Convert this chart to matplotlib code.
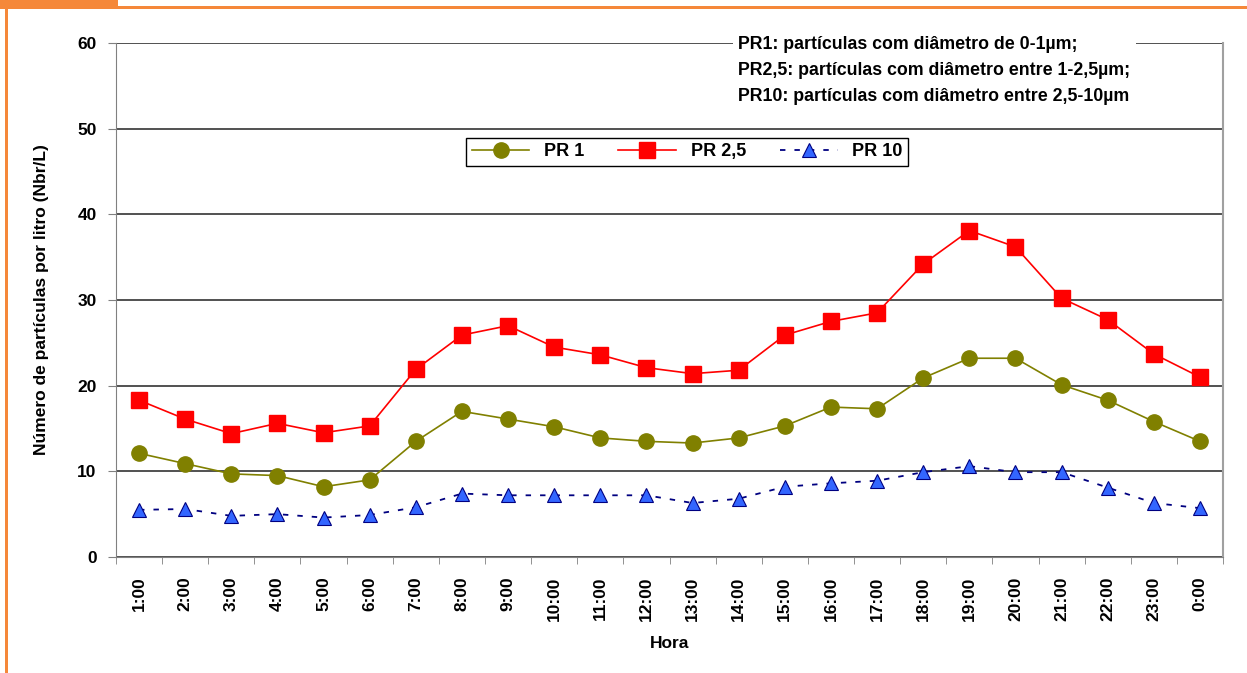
import matplotlib.pyplot as plt
from matplotlib.patches import Rectangle

plt.rcParams['font.family'] = ['Liberation Sans', 'DejaVu Sans']
plt.rcParams['font.weight'] = 'bold'

horas = ['1:00', '2:00', '3:00', '4:00', '5:00', '6:00', '7:00', '8:00',
         '9:00', '10:00', '11:00', '12:00', '13:00', '14:00', '15:00', '16:00',
         '17:00', '18:00', '19:00', '20:00', '21:00', '22:00', '23:00', '0:00']
pr1 = [12.1, 10.9, 9.7, 9.5, 8.2, 9.0, 13.5, 17.0, 16.1, 15.2, 13.9, 13.5,
       13.3, 13.9, 15.3, 17.5, 17.3, 20.9, 23.2, 23.2, 20.1, 18.3, 15.8, 13.5]
pr25 = [18.3, 16.1, 14.4, 15.6, 14.5, 15.3, 21.9, 25.9, 27.0, 24.5, 23.6, 22.1,
        21.4, 21.8, 25.9, 27.5, 28.5, 34.2, 38.1, 36.2, 30.2, 27.7, 23.7, 21.0]
pr10 = [5.5, 5.6, 4.8, 5.0, 4.6, 4.9, 5.8, 7.4, 7.2, 7.2, 7.2, 7.2,
        6.3, 6.8, 8.2, 8.6, 8.9, 9.9, 10.6, 9.9, 9.9, 8.1, 6.3, 5.7]
nota = ['PR1: partículas com diâmetro de 0-1µm;',
        'PR2,5: partículas com diâmetro entre 1-2,5µm;',
        'PR10: partículas com diâmetro entre 2,5-10µm']

fig = plt.figure(figsize=(12.47, 6.73), dpi=100)
ax = fig.add_axes([0.093, 0.1724, 0.8878, 0.7637])

x = list(range(len(horas)))
ax.plot(x, pr1, color='#808000', lw=1.2, marker='o', ms=11,
        mfc='#808000', mec='#808000', label='PR 1', zorder=3)
ax.plot(x, pr25, color='#FF0000', lw=1.2, marker='s', ms=11,
        mfc='#FF0000', mec='#FF0000', label='PR 2,5', zorder=3)
ax.plot(x, pr10, color='#000080', lw=1.3, ls=(0, (3, 5)), marker='^', ms=10,
        mfc='#3366FF', mec='#000080', mew=0.8, label='PR 10', zorder=3)

ax.set_xlim(-0.5, len(horas) - 0.5)
ax.set_ylim(0, 60)
ax.set_yticks(range(0, 61, 10))
ax.set_xticks(x)
ax.set_xticklabels(horas, rotation=90, fontsize=12.5, fontweight='bold')
for t in ax.get_yticklabels():
    t.set_fontsize(12.5)
    t.set_fontweight('bold')
ax.tick_params(axis='y', length=6, pad=8, color='#808080')
ax.set_xticks([i - 0.5 for i in range(len(horas) + 1)], minor=True)
ax.tick_params(axis='x', which='major', length=0, pad=14)
ax.tick_params(axis='x', which='minor', length=5, color='#808080')

ax.yaxis.grid(True, color='#222222', lw=1.1)
ax.set_axisbelow(True)
ax.spines['top'].set_visible(False)
ax.spines['left'].set_color('#808080')
ax.spines['right'].set_color('#A0A0A0')
ax.spines['right'].set_linewidth(1.5)
ax.spines['bottom'].set_color('#808080')

ax.set_xlabel('Hora', fontsize=12.5, fontweight='bold', labelpad=11)
ax.set_ylabel('Número de partículas por litro (Nbr/L)', fontsize=12.5,
              fontweight='bold', labelpad=20)

leg = ax.legend(loc='center', bbox_to_anchor=(0.516, 0.788), ncol=3,
                fancybox=False, edgecolor='black', framealpha=1,
                prop={'size': 13, 'weight': 'bold'}, handlelength=3.2,
                columnspacing=1.9, borderpad=0.3, handletextpad=0.8)
leg.get_frame().set_linewidth(1)

fig.text(0.592, 0.946, '\n'.join(nota), fontsize=12.8, fontweight='bold',
         va='top', ha='left', linespacing=1.68,
         bbox=dict(facecolor='white', edgecolor='none', pad=4))

# moldura laranja
orange = '#F5883A'
fig.add_artist(Rectangle((0, 1 - 9 / 673), 1, 3 / 673, transform=fig.transFigure,
                         color=orange, lw=0))
fig.add_artist(Rectangle((0, 1 - 9 / 673), 118 / 1247, 9 / 673,
                         transform=fig.transFigure, color=orange, lw=0))
fig.add_artist(Rectangle((5 / 1247, 0), 3 / 1247, 1 - 9 / 673,
                         transform=fig.transFigure, color=orange, lw=0))

fig.savefig('out.png', dpi=100)
